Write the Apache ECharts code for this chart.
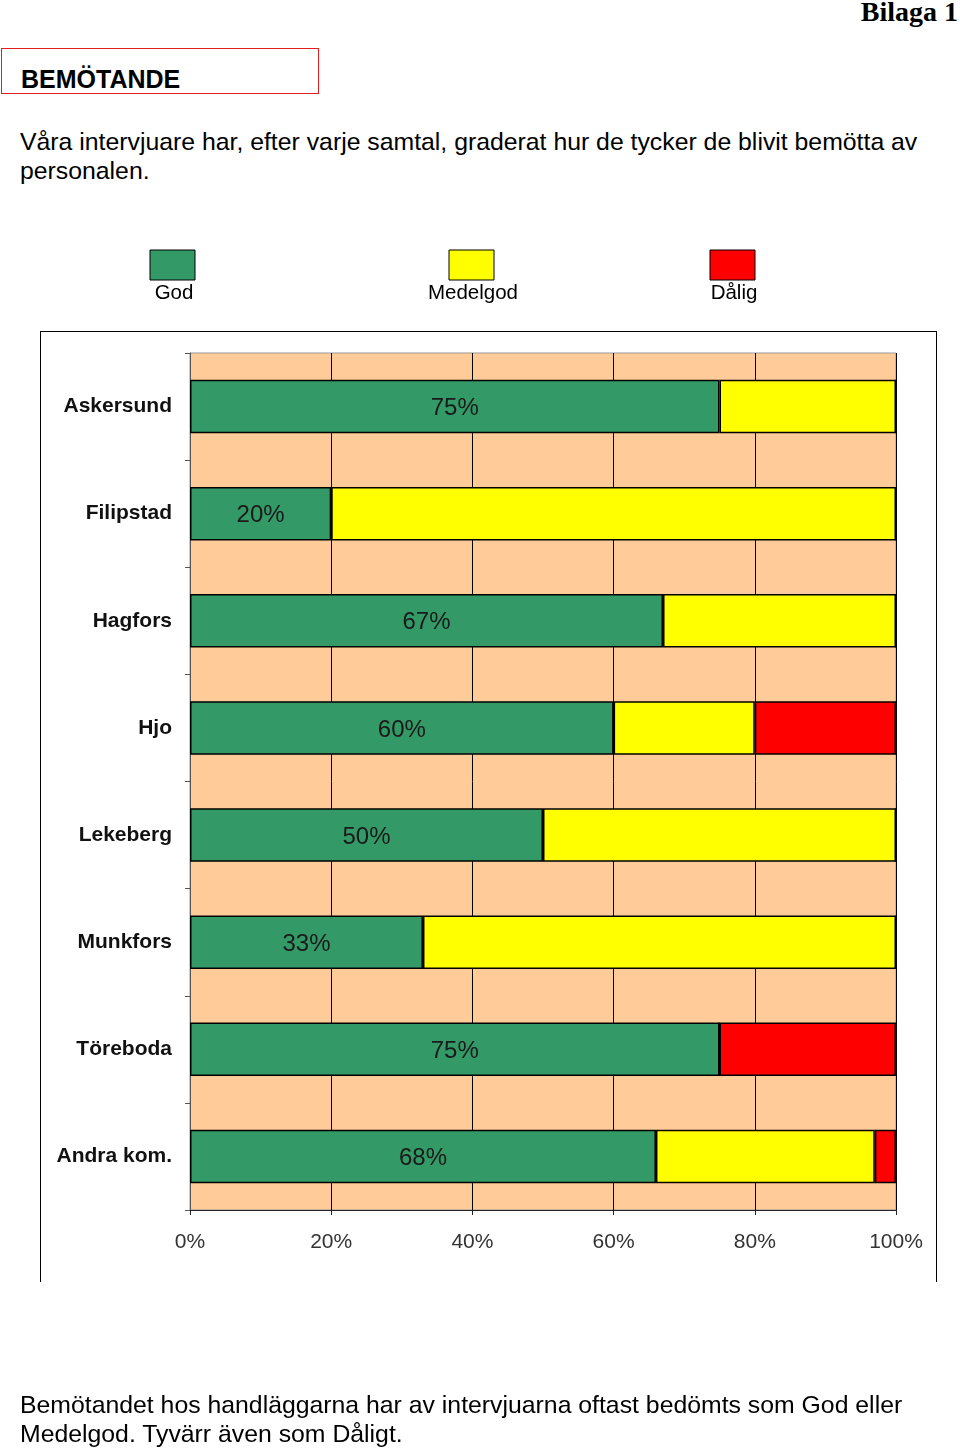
<!DOCTYPE html>
<html>
<head>
<meta charset="utf-8">
<script src="https://cdn.jsdelivr.net/npm/echarts@6/dist/echarts.min.js"></script>
<style>
  body { margin: 0; background: #fff; font-family: "Liberation Sans", Arial, sans-serif; }
  .page { position: relative; width: 960px; height: 1449px; overflow: hidden; }
  #chart { position: absolute; left: 0; top: 0; width: 960px; height: 1449px; }
  .bilaga { position: absolute; right: 2px; top: -4px; font-family: "Liberation Serif", "Times New Roman", serif; font-weight: bold; font-size: 28px; color: #000; }
  .rubrik { position: absolute; left: 1px; top: 48px; width: 316px; height: 44px; border: 1px solid #e02020; }
  .rubrik span { position: absolute; left: 19px; top: 16px; font-weight: bold; font-size: 25px; color: #000; }
  .text { position: absolute; left: 20px; font-size: 24.8px; line-height: 28.5px; color: #000; white-space: nowrap; }
  .frame { position: absolute; left: 40px; top: 331px; width: 895px; height: 950px; border: 1px solid #000; border-bottom: none; }
</style>
</head>
<body>
<div class="page">
  <div class="bilaga">Bilaga 1</div>
  <div class="rubrik"><span>BEMÖTANDE</span></div>
  <div class="text" style="top:128px">Våra intervjuare har, efter varje samtal, graderat hur de tycker de blivit bemötta av<br>personalen.</div>
  <div class="frame"></div>
  <div id="chart"></div>
  <div class="text" style="top:1391px">Bemötandet hos handläggarna har av intervjuarna oftast bedömts som God eller<br>Medelgod. Tyvärr även som Dåligt.</div>
</div>
<script>
const categories = ['Askersund', 'Filipstad', 'Hagfors', 'Hjo', 'Lekeberg', 'Munkfors', 'Töreboda', 'Andra kom.'];
const god = [75, 20, 67, 60, 50, 33, 75, 66];
const medelgod = [25, 80, 33, 20, 50, 67, 0, 31];
const dalig = [0, 0, 0, 20, 0, 0, 25, 3];
const godLabels = ['75%', '20%', '67%', '60%', '50%', '33%', '75%', '68%'];
const seriesNames = ['God', 'Medelgod', 'Dålig'];
const colors = ['#339966', '#ffff00', '#ff0000'];

let myChart = echarts.init(document.getElementById('chart'));

// legend squares with the text under them
const legendX = [172, 471, 732];
let legendGraphics = [];
seriesNames.forEach(function (name, i) {
  legendGraphics.push({
    type: 'rect',
    shape: { x: legendX[i] - 22, y: 250, width: 45, height: 30 },
    style: { fill: colors[i], stroke: '#000', lineWidth: 1 }
  });
  legendGraphics.push({
    type: 'text',
    x: legendX[i] + 2, y: 293,
    style: { text: name, fill: '#000', font: '20.5px "Liberation Sans", Arial', align: 'center', verticalAlign: 'middle' }
  });
});

function barSeries(idx, data) {
  return {
    name: seriesNames[idx],
    type: 'bar',
    stack: 'total',
    barWidth: '50%',
    data: data,
    itemStyle: { color: colors[idx], borderColor: '#000', borderWidth: 1.5 },
    label: idx === 0 ? {
      show: true,
      position: 'inside',
      offset: [0, 2],
      formatter: function (p) { return godLabels[p.dataIndex]; },
      color: '#1a1a1a',
      fontSize: 24,
      fontFamily: '"Liberation Sans", Arial'
    } : { show: false },
    emphasis: { disabled: true }
  };
}

myChart.setOption({
  animation: false,
  textStyle: { fontFamily: '"Liberation Sans", Arial' },
  grid: {
    left: 190, right: 64, top: 353, bottom: 239,
    show: true,
    backgroundColor: '#ffcc99',
    borderColor: '#999',
    borderWidth: 1
  },
  xAxis: {
    type: 'value',
    min: 0,
    max: 100,
    interval: 20,
    axisLine: { show: true, lineStyle: { color: '#222', width: 1 } },
    axisTick: { show: true, length: 5, lineStyle: { color: '#222' } },
    axisLabel: { formatter: '{value}%', color: '#333', fontSize: 21, margin: 22 },
    splitLine: { show: true, lineStyle: { color: '#000', width: 1 } }
  },
  yAxis: {
    type: 'category',
    inverse: true,
    data: categories,
    axisLine: { show: true, lineStyle: { color: '#555', width: 1 } },
    axisTick: { show: true, length: 5, lineStyle: { color: '#555' } },
    axisLabel: { color: '#111', fontSize: 21, fontWeight: 'bold', margin: 18, padding: [7, 0, 0, 0] },
    splitLine: { show: false }
  },
  series: [barSeries(0, god), barSeries(1, medelgod), barSeries(2, dalig)],
  graphic: legendGraphics
});
</script>
</body>
</html>
